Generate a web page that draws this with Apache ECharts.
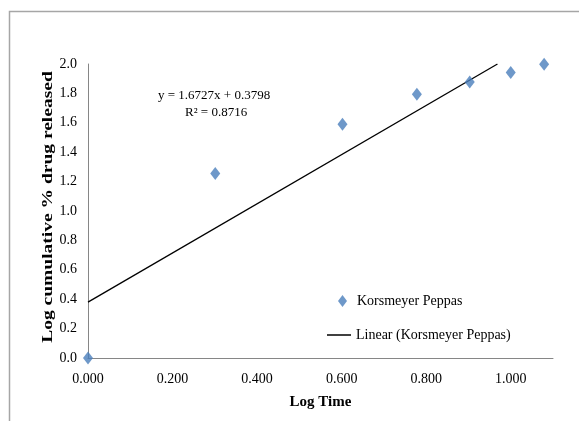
<!DOCTYPE html>
<html>
<head>
<meta charset="utf-8">
<script src="https://cdn.jsdelivr.net/npm/echarts@6/dist/echarts.min.js"></script>
<style>html,body{margin:0;padding:0;background:#fff;}#c{width:579px;height:421px;}</style>
</head>
<body>
<div id="c"></div>
<script>
const logTime = [0.000, 0.301, 0.602, 0.778, 0.903, 1.000, 1.079];
const logRelease = [0.000, 1.255, 1.590, 1.795, 1.878, 1.943, 1.998];
const trendSlope = 1.6727;
const trendIntercept = 0.3798;
const trendR2 = 0.8716;
const seriesName = 'Korsmeyer Peppas';
const trendName = 'Linear (Korsmeyer Peppas)';
const xTitle = 'Log Time';
const yTitle = 'Log cumulative % drug released';

const yMax = 2.0;
const trendEndX = (yMax - trendIntercept) / trendSlope;
const trendData = [[0, trendIntercept], [trendEndX, trendIntercept + trendSlope * trendEndX]];
const scatterData = logTime.map((x, i) => [x, logRelease[i]]);

const font = 'Liberation Serif, Times New Roman, serif';
const chart = echarts.init(document.getElementById('c'));
chart.setOption({
  animation: false,
  backgroundColor: '#fff',
  grid: { left: 88, top: 64, right: 26, bottom: 63 },
  xAxis: {
    type: 'value', min: 0, max: 1.1, interval: 0.2,
    name: xTitle, nameLocation: 'middle', nameGap: 37, nameMoveOverlap: false,
    nameTextStyle: { fontFamily: font, fontWeight: 'bold', fontSize: 15, color: '#000' },
    axisLine: { show: true, lineStyle: { color: '#868686', width: 1 } },
    axisTick: { show: false },
    splitLine: { show: false },
    axisLabel: { fontFamily: font, fontSize: 14, color: '#000', margin: 14, showMaxLabel: false,
      formatter: v => v.toFixed(3) }
  },
  yAxis: {
    type: 'value', min: 0, max: 2.0, interval: 0.2,
    axisLine: { show: true, lineStyle: { color: '#868686', width: 1 } },
    axisTick: { show: false },
    splitLine: { show: false },
    axisLabel: { fontFamily: font, fontSize: 14, color: '#000', margin: 11,
      formatter: v => v.toFixed(1) }
  },
  legend: [
    { data: [{ name: seriesName, icon: 'diamond' }], left: 338, top: 294, padding: 0, itemWidth: 9, itemHeight: 12,
      textStyle: { fontFamily: font, fontSize: 14, color: '#000', padding: [0, 0, 0, 5] } },
    { data: [{ name: trendName, icon: 'rect' }], left: 327, top: 328, padding: 0, itemWidth: 24, itemHeight: 1.5,
      textStyle: { fontFamily: font, fontSize: 14, color: '#000' } }
  ],
  series: [
    { name: trendName, type: 'line', data: trendData, symbol: 'none', z: 2,
      lineStyle: { color: '#000', width: 1.3 }, itemStyle: { color: '#000' } },
    { name: seriesName, type: 'scatter', data: scatterData, symbol: 'diamond', symbolSize: [10, 13],
      clip: false, z: 3, itemStyle: { color: '#4A7EBB' } }
  ],
  graphic: [
    { type: 'rect', shape: { x: 9.5, y: 11.5, width: 600, height: 450 },
      style: { fill: 'none', stroke: '#a6a6a6', lineWidth: 1.5 }, silent: true, z: -1 },
    { type: 'text', x: 48.5, y: 207, rotation: Math.PI / 2, scaleX: 1.3,
      style: { text: yTitle, fontFamily: font, fontWeight: 'bold', fontSize: 15, fill: '#000',
        align: 'center', verticalAlign: 'middle' } },
    { type: 'text', left: 158, top: 89,
      style: { text: 'y = 1.6727x + 0.3798', fontFamily: font, fontSize: 13, fill: '#000' } },
    { type: 'text', left: 185, top: 106,
      style: { text: 'R² = ' + trendR2.toFixed(4), fontFamily: font, fontSize: 13, fill: '#000' } }
  ]
});
</script>
</body>
</html>
